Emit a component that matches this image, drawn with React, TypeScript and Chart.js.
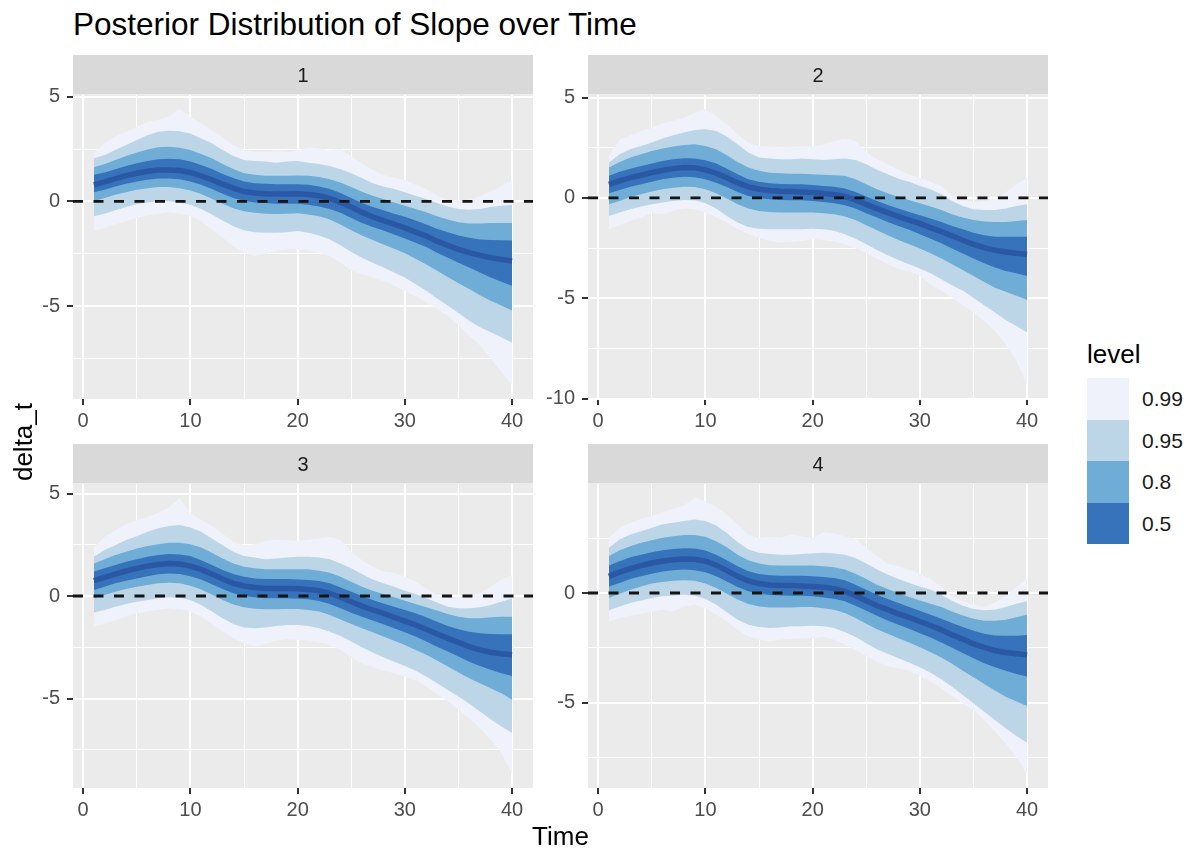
import React, { useEffect, useRef } from "react";
import { Chart, registerables } from "chart.js";

Chart.register(...registerables);

const FONT = "'Liberation Sans', Arial, Helvetica, sans-serif";

// ---------------- data ----------------
const TIME = [1, 2, 3, 4, 5, 6, 7, 8, 9, 10, 11, 12, 13, 14, 15, 16, 17, 18, 19, 20,
  21, 22, 23, 24, 25, 26, 27, 28, 29, 30, 31, 32, 33, 34, 35, 36, 37, 38, 39, 40];

const X_MAJOR = [0, 10, 20, 30, 40];
const X_MINOR = [5, 15, 25, 35];
const Y_MAJOR = [-10, -5, 0, 5];
const Y_MINOR = [-7.5, -2.5, 2.5];
const REF_LINE = 0;

const LEVELS = ["0.99", "0.95", "0.8", "0.5"];
const LEVEL_COLORS = ["#eff1fb", "#bdd6e7", "#6fadd7", "#3773ba"];
const MEDIAN_COLOR = "#2a58a5";
const PANEL_LABELS = ["1", "2", "3", "4"];

// Panel 1
const P1_MED = [0.79, 0.93, 1.09, 1.23, 1.34, 1.44, 1.50, 1.50, 1.47, 1.38,
  1.22, 1.03, 0.82, 0.63, 0.47, 0.40, 0.36, 0.35, 0.35, 0.36,
  0.33, 0.27, 0.14, -0.05, -0.27, -0.52, -0.74, -0.92, -1.09, -1.27,
  -1.47, -1.66, -1.90, -2.10, -2.29, -2.45, -2.58, -2.69, -2.77, -2.85];
const P1_HI50 = [1.27, 1.38, 1.53, 1.69, 1.82, 1.93, 2.01, 2.04, 2.01, 1.90,
  1.74, 1.54, 1.31, 1.11, 0.95, 0.87, 0.84, 0.82, 0.82, 0.82,
  0.79, 0.71, 0.59, 0.40, 0.16, -0.08, -0.27, -0.43, -0.59, -0.74,
  -0.92, -1.11, -1.31, -1.47, -1.63, -1.74, -1.82, -1.85, -1.86, -1.87];
const P1_LO50 = [0.43, 0.55, 0.71, 0.84, 0.95, 1.03, 1.09, 1.09, 1.06, 0.95,
  0.79, 0.59, 0.36, 0.16, 0.03, -0.05, -0.08, -0.11, -0.11, -0.11,
  -0.16, -0.24, -0.36, -0.55, -0.79, -1.03, -1.22, -1.39, -1.58, -1.77,
  -1.98, -2.18, -2.45, -2.69, -2.93, -3.16, -3.40, -3.64, -3.84, -4.03];
const P1_HI80 = [1.63, 1.79, 1.98, 2.17, 2.33, 2.48, 2.58, 2.61, 2.56, 2.45,
  2.26, 2.06, 1.79, 1.54, 1.34, 1.27, 1.22, 1.22, 1.22, 1.24,
  1.22, 1.16, 1.06, 0.90, 0.68, 0.46, 0.27, 0.11, -0.05, -0.21,
  -0.36, -0.52, -0.71, -0.87, -1.00, -1.06, -1.06, -1.03, -1.03, -1.03];
const P1_LO80 = [0.00, 0.16, 0.32, 0.44, 0.55, 0.63, 0.68, 0.68, 0.63, 0.52,
  0.35, 0.13, -0.11, -0.33, -0.47, -0.55, -0.59, -0.60, -0.59, -0.57,
  -0.63, -0.71, -0.87, -1.11, -1.38, -1.63, -1.85, -2.06, -2.26, -2.48,
  -2.74, -3.01, -3.32, -3.61, -3.91, -4.19, -4.48, -4.75, -4.98, -5.22];
const P1_HI95 = [2.06, 2.22, 2.45, 2.69, 2.93, 3.16, 3.32, 3.37, 3.35, 3.24,
  3.00, 2.77, 2.45, 2.17, 1.98, 1.93, 1.90, 1.85, 1.90, 1.93,
  1.85, 1.79, 1.69, 1.53, 1.34, 1.11, 0.87, 0.71, 0.59, 0.43,
  0.27, 0.11, -0.08, -0.24, -0.36, -0.40, -0.36, -0.27, -0.21, -0.16];
const P1_LO95 = [-0.71, -0.59, -0.43, -0.27, -0.13, -0.05, 0.00, 0.00, -0.05, -0.16,
  -0.36, -0.63, -0.92, -1.19, -1.38, -1.47, -1.50, -1.50, -1.47, -1.42,
  -1.50, -1.63, -1.82, -2.10, -2.42, -2.69, -2.93, -3.16, -3.40, -3.64,
  -3.96, -4.27, -4.64, -4.98, -5.33, -5.70, -6.01, -6.25, -6.49, -6.76];
const P1_HI99 = [2.29, 2.77, 3.09, 3.32, 3.56, 3.80, 3.90, 4.07, 4.42, 4.03,
  3.72, 3.40, 3.09, 2.69, 2.45, 2.37, 2.37, 2.40, 2.35, 2.42,
  2.58, 2.53, 2.45, 2.50, 2.14, 1.82, 1.50, 1.27, 1.11, 1.03,
  0.79, 0.59, 0.27, 0.08, 0.05, 0.08, 0.24, 0.47, 0.71, 1.03];
const P1_LO99 = [-1.42, -1.27, -1.11, -0.95, -0.79, -0.68, -0.59, -0.52, -0.59, -0.71,
  -0.95, -1.34, -1.74, -2.14, -2.45, -2.61, -2.53, -2.37, -2.29, -2.29,
  -2.34, -2.45, -2.61, -2.93, -3.32, -3.48, -3.64, -3.80, -4.03, -4.27,
  -4.54, -4.83, -5.14, -5.46, -5.93, -6.41, -6.88, -7.52, -8.15, -8.78];

// Panel 2
const P2_MED = [0.68, 0.85, 1.01, 1.13, 1.26, 1.38, 1.46, 1.51, 1.50, 1.40,
  1.23, 1.01, 0.76, 0.55, 0.43, 0.37, 0.33, 0.32, 0.30, 0.27,
  0.22, 0.17, 0.07, -0.10, -0.32, -0.53, -0.73, -0.93, -1.10, -1.28,
  -1.48, -1.68, -1.89, -2.11, -2.31, -2.48, -2.61, -2.69, -2.76, -2.81];
const P2_HI50 = [1.10, 1.30, 1.46, 1.59, 1.71, 1.84, 1.93, 1.98, 1.96, 1.88,
  1.71, 1.46, 1.18, 0.93, 0.80, 0.73, 0.70, 0.68, 0.68, 0.65,
  0.60, 0.56, 0.47, 0.30, 0.07, -0.15, -0.35, -0.53, -0.70, -0.86,
  -1.03, -1.20, -1.40, -1.56, -1.73, -1.86, -1.93, -1.94, -1.94, -1.93];
const P2_LO50 = [0.23, 0.40, 0.56, 0.68, 0.81, 0.93, 1.01, 1.05, 1.03, 0.93,
  0.76, 0.55, 0.30, 0.10, -0.02, -0.07, -0.10, -0.12, -0.12, -0.15,
  -0.20, -0.27, -0.37, -0.53, -0.76, -0.98, -1.20, -1.40, -1.59, -1.81,
  -2.03, -2.26, -2.52, -2.77, -3.02, -3.26, -3.47, -3.64, -3.75, -3.89];
const P2_HI80 = [1.51, 1.79, 2.01, 2.18, 2.34, 2.46, 2.56, 2.64, 2.67, 2.59,
  2.43, 2.13, 1.79, 1.51, 1.35, 1.26, 1.23, 1.21, 1.21, 1.18,
  1.15, 1.13, 1.10, 0.93, 0.68, 0.43, 0.23, 0.05, -0.10, -0.27,
  -0.43, -0.60, -0.81, -0.98, -1.10, -1.18, -1.20, -1.20, -1.15, -1.10];
const P2_LO80 = [-0.32, -0.15, 0.05, 0.18, 0.32, 0.43, 0.51, 0.56, 0.55, 0.43,
  0.23, -0.03, -0.32, -0.53, -0.65, -0.70, -0.73, -0.73, -0.73, -0.73,
  -0.76, -0.81, -0.93, -1.10, -1.36, -1.61, -1.86, -2.09, -2.31, -2.52,
  -2.76, -3.02, -3.31, -3.59, -3.89, -4.19, -4.47, -4.68, -4.88, -5.08];
const P2_HI95 = [1.76, 2.18, 2.43, 2.59, 2.76, 2.96, 3.12, 3.26, 3.39, 3.42,
  3.34, 3.06, 2.67, 2.26, 2.01, 1.96, 1.93, 1.93, 1.96, 1.93,
  1.89, 1.93, 1.96, 1.89, 1.68, 1.40, 1.18, 0.96, 0.80, 0.60,
  0.43, 0.18, -0.15, -0.40, -0.56, -0.60, -0.60, -0.53, -0.40, -0.32];
const P2_LO95 = [-0.90, -0.73, -0.56, -0.43, -0.32, -0.23, -0.15, -0.10, -0.12, -0.27,
  -0.53, -0.90, -1.23, -1.45, -1.53, -1.56, -1.56, -1.56, -1.56, -1.53,
  -1.56, -1.64, -1.81, -2.03, -2.31, -2.59, -2.86, -3.09, -3.31, -3.52,
  -3.75, -4.05, -4.35, -4.63, -4.97, -5.35, -5.71, -6.08, -6.38, -6.71];
const P2_HI99 = [2.10, 2.90, 3.12, 3.34, 3.50, 3.72, 3.84, 4.00, 4.25, 4.44,
  4.09, 3.67, 3.17, 2.76, 2.59, 2.56, 2.51, 2.56, 2.59, 2.56,
  2.67, 2.84, 2.96, 2.84, 2.26, 1.93, 1.68, 1.40, 1.18, 1.01,
  0.80, 0.60, 0.10, -0.10, -0.20, -0.15, -0.07, 0.27, 0.68, 1.01];
const P2_LO99 = [-1.56, -1.36, -1.15, -0.98, -0.76, -0.81, -0.65, -0.53, -0.56, -0.73,
  -0.98, -1.23, -1.56, -1.81, -1.98, -2.14, -2.23, -2.19, -2.14, -2.06,
  -2.09, -2.19, -2.31, -2.52, -2.76, -3.02, -3.31, -3.55, -3.64, -3.89,
  -4.30, -4.63, -4.97, -5.35, -5.71, -6.13, -6.63, -7.29, -8.12, -9.33];

// Panel 3
const P3_MED = [0.75, 0.91, 1.07, 1.22, 1.35, 1.46, 1.54, 1.59, 1.56, 1.46,
  1.30, 1.07, 0.83, 0.62, 0.49, 0.42, 0.37, 0.37, 0.37, 0.36,
  0.32, 0.26, 0.13, -0.06, -0.28, -0.49, -0.68, -0.84, -1.04, -1.22,
  -1.41, -1.62, -1.85, -2.06, -2.27, -2.47, -2.63, -2.74, -2.82, -2.87];
const P3_HI50 = [1.19, 1.35, 1.51, 1.67, 1.79, 1.92, 2.00, 2.05, 2.03, 1.95,
  1.75, 1.51, 1.27, 1.07, 0.94, 0.86, 0.83, 0.83, 0.83, 0.81,
  0.78, 0.73, 0.62, 0.42, 0.21, 0.00, -0.19, -0.36, -0.52, -0.68,
  -0.84, -1.04, -1.25, -1.46, -1.62, -1.74, -1.82, -1.85, -1.86, -1.87];
const P3_LO50 = [0.29, 0.45, 0.62, 0.75, 0.86, 0.97, 1.06, 1.10, 1.07, 0.97,
  0.81, 0.58, 0.34, 0.13, 0.00, -0.06, -0.11, -0.11, -0.11, -0.13,
  -0.16, -0.24, -0.39, -0.60, -0.81, -1.01, -1.20, -1.38, -1.57, -1.77,
  -1.98, -2.22, -2.47, -2.71, -2.95, -3.20, -3.41, -3.60, -3.77, -3.90];
const P3_HI80 = [1.59, 1.79, 2.00, 2.16, 2.32, 2.44, 2.53, 2.60, 2.60, 2.53,
  2.37, 2.11, 1.83, 1.59, 1.43, 1.35, 1.30, 1.30, 1.31, 1.31,
  1.30, 1.23, 1.14, 0.94, 0.70, 0.45, 0.26, 0.10, -0.06, -0.23,
  -0.39, -0.55, -0.71, -0.88, -1.01, -1.09, -1.09, -1.04, -1.01, -1.01];
const P3_LO80 = [-0.11, 0.05, 0.21, 0.34, 0.45, 0.54, 0.62, 0.65, 0.62, 0.50,
  0.32, 0.08, -0.19, -0.41, -0.55, -0.62, -0.65, -0.65, -0.63, -0.63,
  -0.68, -0.76, -0.93, -1.14, -1.36, -1.57, -1.77, -1.98, -2.18, -2.39,
  -2.63, -2.87, -3.15, -3.44, -3.73, -4.01, -4.25, -4.50, -4.74, -5.06];
const P3_HI95 = [1.92, 2.24, 2.48, 2.73, 2.92, 3.13, 3.30, 3.41, 3.46, 3.34,
  3.13, 2.81, 2.48, 2.16, 1.95, 1.88, 1.79, 1.83, 1.88, 1.92,
  1.92, 1.88, 1.79, 1.59, 1.35, 1.07, 0.81, 0.62, 0.45, 0.26,
  0.10, -0.11, -0.32, -0.52, -0.60, -0.60, -0.55, -0.44, -0.28, -0.11];
const P3_LO95 = [-0.81, -0.68, -0.52, -0.39, -0.28, -0.19, -0.11, -0.06, -0.08, -0.19,
  -0.44, -0.76, -1.09, -1.36, -1.53, -1.57, -1.53, -1.46, -1.41, -1.41,
  -1.46, -1.57, -1.74, -1.95, -2.22, -2.50, -2.76, -2.99, -3.20, -3.41,
  -3.64, -3.93, -4.25, -4.58, -4.90, -5.26, -5.63, -6.01, -6.36, -6.69];
const P3_HI99 = [2.40, 2.89, 3.21, 3.51, 3.70, 3.86, 4.06, 4.32, 4.79, 4.03,
  3.73, 3.41, 3.05, 2.65, 2.48, 2.53, 2.69, 2.76, 2.73, 2.69,
  2.76, 2.81, 2.89, 2.73, 2.16, 1.75, 1.43, 1.19, 1.14, 0.94,
  0.70, 0.37, 0.05, -0.11, -0.11, -0.03, 0.13, 0.45, 0.81, 1.02];
const P3_LO99 = [-1.49, -1.36, -1.17, -1.01, -0.84, -0.76, -0.68, -0.60, -0.65, -0.76,
  -1.01, -1.36, -1.74, -2.06, -2.31, -2.44, -2.34, -2.18, -2.11, -2.14,
  -2.18, -2.27, -2.39, -2.63, -2.99, -3.28, -3.47, -3.64, -3.77, -3.93,
  -4.12, -4.42, -4.77, -5.15, -5.55, -5.96, -6.44, -7.01, -7.66, -8.69];

// Panel 4
const P4_MED = [0.76, 0.95, 1.11, 1.25, 1.37, 1.46, 1.52, 1.55, 1.54, 1.45,
  1.27, 1.02, 0.76, 0.55, 0.43, 0.37, 0.34, 0.34, 0.32, 0.30,
  0.26, 0.20, 0.08, -0.12, -0.35, -0.58, -0.76, -0.95, -1.11, -1.30,
  -1.48, -1.68, -1.91, -2.10, -2.32, -2.48, -2.62, -2.71, -2.77, -2.82];
const P4_HI50 = [1.25, 1.45, 1.63, 1.75, 1.86, 1.95, 2.01, 2.04, 2.03, 1.94,
  1.75, 1.49, 1.22, 0.99, 0.87, 0.81, 0.79, 0.79, 0.79, 0.76,
  0.73, 0.69, 0.58, 0.38, 0.15, -0.08, -0.27, -0.46, -0.64, -0.81,
  -0.99, -1.17, -1.37, -1.55, -1.72, -1.86, -1.94, -1.95, -1.95, -1.91];
const P4_LO50 = [0.30, 0.46, 0.64, 0.76, 0.88, 0.98, 1.04, 1.07, 1.04, 0.95,
  0.76, 0.53, 0.27, 0.08, -0.03, -0.09, -0.11, -0.12, -0.12, -0.15,
  -0.20, -0.26, -0.38, -0.58, -0.81, -1.04, -1.25, -1.45, -1.63, -1.83,
  -2.03, -2.26, -2.50, -2.74, -2.97, -3.20, -3.38, -3.54, -3.69, -3.81];
const P4_HI80 = [1.68, 1.95, 2.13, 2.29, 2.41, 2.52, 2.59, 2.64, 2.64, 2.56,
  2.36, 2.09, 1.75, 1.49, 1.34, 1.27, 1.25, 1.25, 1.25, 1.25,
  1.22, 1.17, 1.07, 0.88, 0.64, 0.38, 0.18, 0.00, -0.18, -0.34,
  -0.49, -0.64, -0.84, -1.02, -1.17, -1.27, -1.27, -1.22, -1.10, -0.99];
const P4_LO80 = [-0.23, -0.03, 0.15, 0.30, 0.43, 0.50, 0.56, 0.58, 0.56, 0.43,
  0.23, -0.03, -0.30, -0.50, -0.61, -0.66, -0.66, -0.66, -0.64, -0.64,
  -0.69, -0.76, -0.91, -1.14, -1.40, -1.65, -1.86, -2.06, -2.26, -2.47,
  -2.70, -2.94, -3.23, -3.54, -3.84, -4.15, -4.45, -4.73, -4.95, -5.15];
const P4_HI95 = [2.06, 2.44, 2.67, 2.82, 2.97, 3.13, 3.20, 3.28, 3.35, 3.28,
  3.08, 2.74, 2.32, 1.98, 1.83, 1.78, 1.75, 1.75, 1.78, 1.80,
  1.83, 1.80, 1.75, 1.60, 1.34, 1.07, 0.84, 0.64, 0.46, 0.30,
  0.15, -0.08, -0.35, -0.58, -0.73, -0.79, -0.76, -0.64, -0.49, -0.38];
const P4_LO95 = [-0.79, -0.61, -0.46, -0.34, -0.23, -0.15, -0.11, -0.08, -0.11, -0.27,
  -0.53, -0.88, -1.22, -1.45, -1.55, -1.60, -1.57, -1.52, -1.52, -1.49,
  -1.52, -1.60, -1.78, -2.01, -2.29, -2.56, -2.77, -2.97, -3.17, -3.38,
  -3.63, -3.93, -4.27, -4.65, -5.03, -5.41, -5.79, -6.17, -6.52, -6.83];
const P4_HI99 = [2.52, 2.97, 3.20, 3.38, 3.51, 3.69, 3.84, 3.99, 4.34, 4.19,
  3.93, 3.58, 3.13, 2.67, 2.52, 2.56, 2.52, 2.67, 2.59, 2.52,
  2.77, 2.71, 2.59, 2.47, 2.06, 1.68, 1.34, 1.22, 1.07, 0.88,
  0.64, 0.30, -0.15, -0.38, -0.53, -0.61, -0.43, -0.15, 0.30, 0.64];
const P4_LO99 = [-1.30, -1.14, -1.04, -0.95, -0.84, -0.76, -0.84, -0.61, -0.53, -0.69,
  -0.99, -1.30, -1.68, -1.98, -2.13, -2.21, -2.13, -2.10, -2.06, -2.06,
  -2.01, -2.13, -2.36, -2.59, -2.87, -3.13, -3.35, -3.43, -3.54, -3.78,
  -4.04, -4.34, -4.69, -5.03, -5.34, -5.79, -6.33, -6.86, -7.47, -8.26];

// bands are listed in LEVELS order (0.99, 0.95, 0.8, 0.5)
type PanelData = { label: string; med: number[]; lo: number[][]; hi: number[][] };
const PANELS: PanelData[] = [
  { label: PANEL_LABELS[0], med: P1_MED, lo: [P1_LO99, P1_LO95, P1_LO80, P1_LO50], hi: [P1_HI99, P1_HI95, P1_HI80, P1_HI50] },
  { label: PANEL_LABELS[1], med: P2_MED, lo: [P2_LO99, P2_LO95, P2_LO80, P2_LO50], hi: [P2_HI99, P2_HI95, P2_HI80, P2_HI50] },
  { label: PANEL_LABELS[2], med: P3_MED, lo: [P3_LO99, P3_LO95, P3_LO80, P3_LO50], hi: [P3_HI99, P3_HI95, P3_HI80, P3_HI50] },
  { label: PANEL_LABELS[3], med: P4_MED, lo: [P4_LO99, P4_LO95, P4_LO80, P4_LO50], hi: [P4_HI99, P4_HI95, P4_HI80, P4_HI50] },
];

// ---------------- layout ----------------
const CANVAS_W = 516;
const CANVAS_H = 384;
const Y_AXIS_W = 53;
const X_AXIS_H = 35;
const PAD_TOP = 45;
const STRIP_H = 40;
const POSITIONS = [
  { left: 20, top: 50 },
  { left: 535, top: 50 },
  { left: 20, top: 439 },
  { left: 535, top: 439 },
];

const isIn = (v: number, list: number[]) => list.some((m) => Math.abs(m - v) < 1e-9);

function panelPlugin(label: string) {
  return {
    id: "panelDecor",
    beforeDraw(chart: any) {
      const { ctx, chartArea: a } = chart;
      ctx.save();
      ctx.fillStyle = "#ebebeb";
      ctx.fillRect(a.left, a.top, a.right - a.left, a.bottom - a.top);
      ctx.fillStyle = "#d9d9d9";
      ctx.fillRect(a.left, a.top - STRIP_H, a.right - a.left, STRIP_H - 0.5);
      ctx.fillStyle = "#1a1a1a";
      ctx.font = `20px ${FONT}`;
      ctx.textAlign = "center";
      ctx.textBaseline = "middle";
      ctx.fillText(label, (a.left + a.right) / 2, a.top - STRIP_H / 2 + 1);
      ctx.restore();
    },
    afterDatasetsDraw(chart: any) {
      const { ctx, chartArea: a, scales } = chart;
      const y = scales.y.getPixelForValue(REF_LINE);
      ctx.save();
      ctx.beginPath();
      ctx.rect(a.left, a.top, a.right - a.left, a.bottom - a.top);
      ctx.clip();
      ctx.setLineDash([10, 10.5]);
      ctx.lineWidth = 2.8;
      ctx.strokeStyle = "#141414";
      ctx.beginPath();
      ctx.moveTo(a.left, y);
      ctx.lineTo(a.right, y);
      ctx.stroke();
      ctx.restore();
    },
  };
}

function gridOptions(majors: number[]) {
  return {
    color: "#ffffff",
    lineWidth: (c: any) => (c.tick && isIn(c.tick.value, majors) ? 2 : 1),
    tickColor: (c: any) => (c.tick && isIn(c.tick.value, majors) ? "#333333" : "rgba(0,0,0,0)"),
    tickWidth: 2,
    tickLength: 6,
    drawTicks: true,
    drawOnChartArea: true,
  };
}

function buildConfig(panel: PanelData): any {
  const values = [panel.med, ...panel.lo, ...panel.hi].flat();
  const vMin = Math.min(...values);
  const vMax = Math.max(...values);
  const yPad = (vMax - vMin) * 0.05;
  const tMin = Math.min(...TIME);
  const tMax = Math.max(...TIME);
  const xPad = (tMax - tMin) * 0.05;
  const pts = (arr: number[]) => TIME.map((t, i) => ({ x: t, y: arr[i] }));

  const datasets: any[] = [
    {
      data: pts(panel.med),
      borderColor: MEDIAN_COLOR,
      borderWidth: 5.5,
      pointRadius: 0,
      fill: false,
      tension: 0,
      borderCapStyle: "butt",
    },
  ];
  for (let k = LEVELS.length - 1; k >= 0; k--) {
    const idx = datasets.length;
    datasets.push({
      data: pts(panel.hi[k]),
      borderWidth: 0,
      borderColor: "rgba(0,0,0,0)",
      backgroundColor: LEVEL_COLORS[k],
      pointRadius: 0,
      fill: idx + 1,
      tension: 0,
    });
    datasets.push({
      data: pts(panel.lo[k]),
      borderWidth: 0,
      borderColor: "rgba(0,0,0,0)",
      pointRadius: 0,
      fill: false,
      tension: 0,
    });
  }

  const xGrid = [...X_MAJOR, ...X_MINOR].sort((a, b) => a - b);
  const yGrid = [...Y_MAJOR, ...Y_MINOR].sort((a, b) => a - b);
  const tickFont = { family: FONT, size: 20 };

  return {
    type: "line",
    data: { datasets },
    options: {
      responsive: false,
      animation: false,
      events: [],
      layout: { padding: { top: PAD_TOP, right: 3, left: 0, bottom: 0 } },
      plugins: { legend: { display: false }, tooltip: { enabled: false } },
      scales: {
        x: {
          type: "linear",
          min: tMin - xPad,
          max: tMax + xPad,
          afterBuildTicks: (s: any) => {
            s.ticks = xGrid.filter((v) => v >= s.min && v <= s.max).map((v) => ({ value: v }));
          },
          afterFit: (s: any) => {
            s.height = X_AXIS_H;
          },
          grid: gridOptions(X_MAJOR),
          border: { display: false },
          ticks: {
            autoSkip: false,
            maxRotation: 0,
            padding: 4,
            color: "#4d4d4d",
            font: tickFont,
            callback: (v: any) => (isIn(Number(v), X_MAJOR) ? String(v) : ""),
          },
        },
        y: {
          type: "linear",
          min: vMin - yPad,
          max: vMax + yPad,
          afterBuildTicks: (s: any) => {
            s.ticks = yGrid.filter((v) => v >= s.min && v <= s.max).map((v) => ({ value: v }));
          },
          afterFit: (s: any) => {
            s.width = Y_AXIS_W;
          },
          grid: gridOptions(Y_MAJOR),
          border: { display: false },
          ticks: {
            autoSkip: false,
            padding: 7,
            color: "#4d4d4d",
            font: tickFont,
            callback: (v: any) => (isIn(Number(v), Y_MAJOR) ? String(v) : ""),
          },
        },
      },
    },
    plugins: [panelPlugin(panel.label)],
  };
}

function PanelChart({ panel, left, top }: { panel: PanelData; left: number; top: number }) {
  const ref = useRef<HTMLCanvasElement | null>(null);
  useEffect(() => {
    if (!ref.current) return;
    const chart = new Chart(ref.current, buildConfig(panel));
    return () => chart.destroy();
  }, [panel]);
  return (
    <canvas
      ref={ref}
      width={CANVAS_W}
      height={CANVAS_H}
      style={{ position: "absolute", left, top, width: CANVAS_W, height: CANVAS_H }}
    />
  );
}

const KEY_TOP = 378;
const KEY_H = 41.5;

export default function App() {
  return (
    <div
      style={{
        position: "absolute",
        left: 0,
        top: 0,
        width: 1200,
        height: 853,
        background: "#ffffff",
        fontFamily: FONT,
        overflow: "hidden",
      }}
    >
      <div
        style={{
          position: "absolute",
          left: 73,
          top: 9,
          fontSize: 31.5,
          lineHeight: "31px",
          color: "#000",
          whiteSpace: "nowrap",
        }}
      >
        Posterior Distribution of Slope over Time
      </div>

      {PANELS.map((p, i) => (
        <PanelChart key={p.label} panel={p} left={POSITIONS[i].left} top={POSITIONS[i].top} />
      ))}

      <div
        style={{
          position: "absolute",
          left: 23 - 100,
          top: 441.5 - 13,
          width: 200,
          height: 26,
          fontSize: 26,
          lineHeight: "26px",
          textAlign: "center",
          transform: "rotate(-90deg)",
          color: "#000",
          whiteSpace: "nowrap",
        }}
      >
        delta_t
      </div>

      <div
        style={{
          position: "absolute",
          left: 560.5 - 100,
          top: 823,
          width: 200,
          fontSize: 26,
          lineHeight: "26px",
          textAlign: "center",
          color: "#000",
        }}
      >
        Time
      </div>

      <div
        style={{
          position: "absolute",
          left: 1087,
          top: 341,
          fontSize: 26,
          lineHeight: "26px",
          color: "#000",
        }}
      >
        level
      </div>
      {LEVELS.map((lv, i) => (
        <React.Fragment key={lv}>
          <div
            style={{
              position: "absolute",
              left: 1087,
              top: KEY_TOP + i * KEY_H,
              width: 42,
              height: KEY_H,
              background: LEVEL_COLORS[i],
            }}
          />
          <div
            style={{
              position: "absolute",
              left: 1142,
              top: KEY_TOP + i * KEY_H,
              height: KEY_H,
              fontSize: 21,
              lineHeight: `${KEY_H}px`,
              color: "#1a1a1a",
            }}
          >
            {lv}
          </div>
        </React.Fragment>
      ))}
    </div>
  );
}
